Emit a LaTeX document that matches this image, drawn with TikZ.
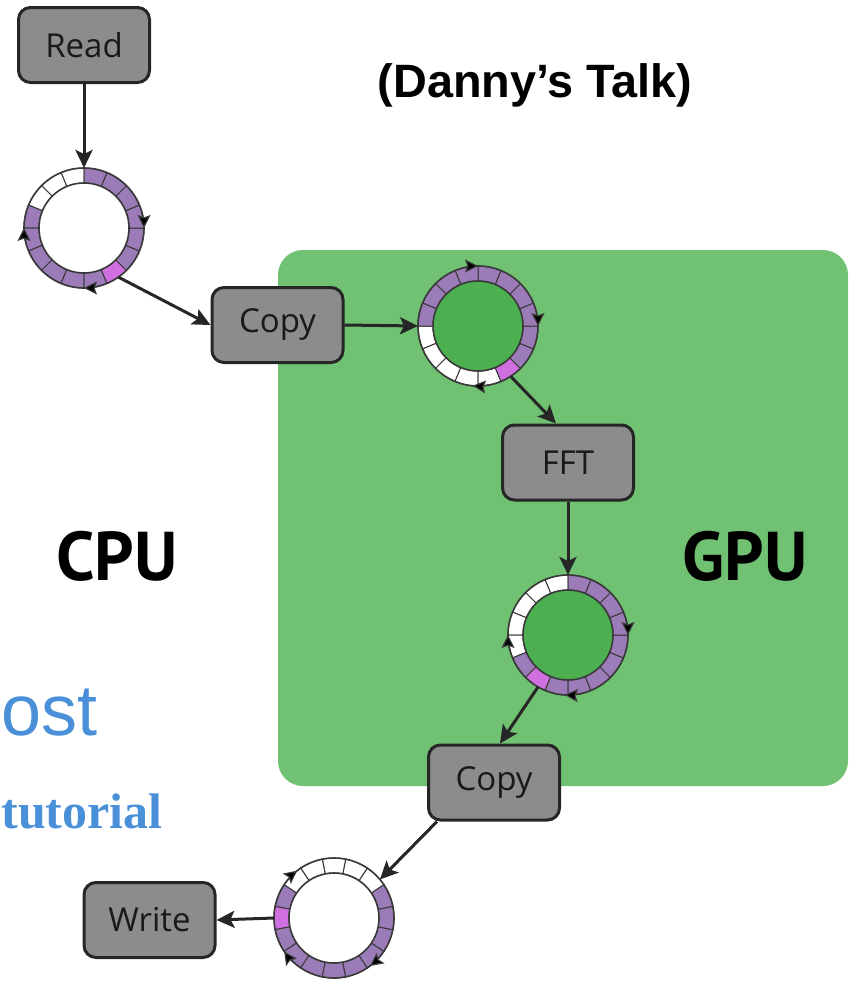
\documentclass[tikz,border=0pt]{standalone}
\usepackage{fontspec}
\setmainfont{Liberation Sans}
\newfontfamily\boxfont{Open Sans}
\newfontfamily\bigfont{PT Sans}
\newfontfamily\seriffont{Liberation Serif}
\usetikzlibrary{arrows.meta,calc}
\definecolor{gpugreen}{HTML}{70C172}
\definecolor{innergreen}{HTML}{4CAF50}
\definecolor{rp}{HTML}{9B7BB8}
\definecolor{rm}{HTML}{D070E0}
\colorlet{rw}{white}
\definecolor{boxgray}{HTML}{8C8C8C}
\definecolor{linedark}{HTML}{262626}
\definecolor{segline}{HTML}{3A3A3A}
\definecolor{blueone}{HTML}{4A90D9}
\tikzset{
  stagebox/.style={draw=linedark, fill=boxgray, line width=1.5pt, rounded corners=6pt,
    minimum width=65.5pt, minimum height=37.5pt, inner sep=0pt,
    font=\boxfont\fontsize{16.5}{19}\selectfont, text=black!90},
  ringnode/.style={circle, minimum size=60pt, inner sep=0pt, outer sep=0pt},
  conn/.style={draw=linedark, line width=1.5pt, -{Stealth[length=9pt,width=8.5pt,inset=2pt]}},
  ringtip/.style={draw=segline, line width=0.6pt, -{Stealth[length=6.5pt,width=6.5pt,inset=1.2pt,fill=black]}},
  ringedge/.style={draw=segline, line width=0.8pt},
  biglabel/.style={font=\bigfont\bfseries\fontsize{34.5}{40}\selectfont, text=black}
}
% #1 centre node, #2 first boundary angle, #3 colours, #4 inner fill, #5 tick angles
\newcommand{\ringbuf}[5]{%
\begin{scope}[shift={(#1)}]
\foreach \col [count=\i from 0] in {#3} {%
  \pgfmathsetmacro\ringA{#2+\i*22.5}%
  \pgfmathsetmacro\ringB{#2+\i*22.5+22.5}%
  \filldraw[fill=\col, draw=segline, line width=0.5pt] (\ringA:60) arc[start angle=\ringA, end angle=\ringB, radius=60] -- (\ringB:45) arc[start angle=\ringB, end angle=\ringA, radius=45] -- cycle;
}
\draw[ringedge] (0,0) circle[radius=60];
\filldraw[fill=#4, ringedge] (0,0) circle[radius=45];
\foreach \t in {#5} {%
  \draw[ringtip] ({\t+16}:60) arc[start angle={\t+16}, end angle=\t, radius=60];
}
\end{scope}}

\begin{document}
\begin{tikzpicture}[x=0.5pt,y=0.5pt]
\useasboundingbox (0,0) rectangle (848,-981);

% GPU region
\fill[gpugreen, rounded corners=12.5pt] (278,-250) rectangle (848,-786);

% texts
\node[font=\bfseries\fontsize{23.4}{28}\selectfont] (talk) at (535,-85) {(Danny’s Talk)};
\node[biglabel] (cpu) at (117,-556) {CPU};
\node[biglabel] (gpu) at (745,-556) {GPU};
\node[anchor=base west, inner sep=0pt, text=blueone, font=\fontsize{36}{44}\selectfont] (ost) at (1,-735) {ost};
\node[anchor=base west, inner sep=0pt, text=blueone, font=\seriffont\bfseries\fontsize{25}{30}\selectfont] (tut) at (1,-828) {tutorial};

% ring buffer nodes
\node[ringnode] (r1) at (84,-228) {};
\node[ringnode] (r2) at (478,-326) {};
\node[ringnode] (r3) at (568,-635) {};
\node[ringnode] (r4) at (334,-918) {};

\ringbuf{r1}{90}{rw,rw,rw,rp,rp,rp,rp,rp,rp,rm,rp,rp,rp,rp,rp,rp}{white}{0,-90,180}
\ringbuf{r2}{180}{rw,rw,rw,rw,rw,rm,rp,rp,rp,rp,rp,rp,rp,rp,rp,rp}{innergreen}{90,0,-95}
\ringbuf{r3}{90}{rw,rw,rw,rw,rw,rp,rm,rp,rp,rp,rp,rp,rp,rp,rp,rp}{innergreen}{180,0,-93}
\ringbuf{r4}{33.75}{rw,rw,rw,rw,rw,rp,rm,rp,rp,rp,rp,rp,rp,rp,rp,rp}{white}{128,214,307}

% stages
\node[stagebox] (read) at (84,-45) {Read};
\node[stagebox] (copy1) at (277.5,-325) {Copy};
\node[stagebox] (fft) at (568,-462.5) {FFT};
\node[stagebox] (copy2) at (494,-782.5) {Copy};
\node[stagebox] (write) at (149.5,-920) {Write};

% connectors
\draw[conn] (read.south) -- (r1.north);
\draw[conn] (r1.-55) -- (copy1.west);
\draw[conn] (copy1.east) -- (r2.west);
\draw[conn] (r2.-57) -- ([xshift=-6pt]fft.north);
\draw[conn] (fft.south) -- (r3.north);
\draw[conn] (r3.-120) -- ([xshift=3pt]copy2.north);
\draw[conn] ([xshift=5pt]copy2.south west) -- (r4.40);
\draw[conn] (r4.west) -- (write.east);
\end{tikzpicture}
\end{document}
